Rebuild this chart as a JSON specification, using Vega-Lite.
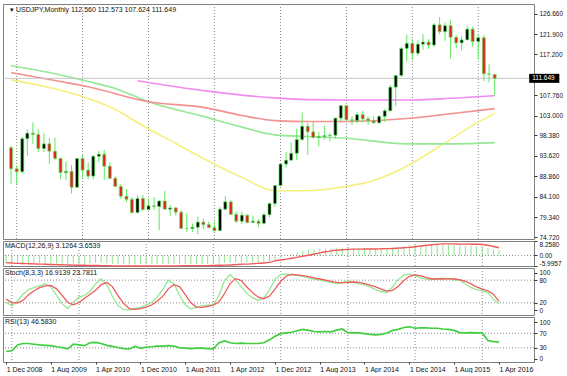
{
  "$schema": "https://vega.github.io/schema/vega-lite/v6.json",
  "padding": {"left": 2, "top": 3, "right": 0, "bottom": 0},
  "background": "white",
  "spacing": 2,
  "bounds": "flush",
  "config": {
    "view": {"stroke": "#808080", "strokeWidth": 1},
    "axis": {"labelFont": "Liberation Sans", "labelFontSize": 6.5, "labelColor": "#111", "tickColor": "#333", "tickSize": 3, "labelPadding": 2, "domain": false, "grid": false},
    "text": {"font": "Liberation Sans", "fontSize": 7, "color": "#111"}
  },
  "datasets": {
    "candles": [
      {"d":"2008-12-01","o":95.5,"h":95.9,"l":87.1,"c":90.6},
      {"d":"2009-01-01","o":90.6,"h":91.3,"l":87.1,"c":89.9},
      {"d":"2009-02-01","o":89.9,"h":98.0,"l":89.4,"c":97.6},
      {"d":"2009-03-01","o":97.6,"h":99.7,"l":93.6,"c":98.9},
      {"d":"2009-04-01","o":98.9,"h":101.4,"l":96.4,"c":98.6},
      {"d":"2009-05-01","o":98.6,"h":99.8,"l":94.5,"c":95.3},
      {"d":"2009-06-01","o":95.3,"h":98.9,"l":94.5,"c":96.4},
      {"d":"2009-07-01","o":96.4,"h":97.8,"l":91.7,"c":94.7},
      {"d":"2009-08-01","o":94.7,"h":97.8,"l":92.6,"c":93.0},
      {"d":"2009-09-01","o":93.0,"h":93.3,"l":88.2,"c":89.7},
      {"d":"2009-10-01","o":89.7,"h":92.3,"l":88.0,"c":90.0},
      {"d":"2009-11-01","o":90.0,"h":91.5,"l":84.8,"c":86.3},
      {"d":"2009-12-01","o":86.3,"h":93.1,"l":86.1,"c":93.0},
      {"d":"2010-01-01","o":93.0,"h":93.8,"l":88.5,"c":90.3},
      {"d":"2010-02-01","o":90.3,"h":92.1,"l":88.1,"c":88.9},
      {"d":"2010-03-01","o":88.9,"h":93.8,"l":88.1,"c":93.5},
      {"d":"2010-04-01","o":93.5,"h":94.8,"l":92.1,"c":94.0},
      {"d":"2010-05-01","o":94.0,"h":95.0,"l":88.0,"c":91.2},
      {"d":"2010-06-01","o":91.2,"h":92.1,"l":88.1,"c":88.4},
      {"d":"2010-07-01","o":88.4,"h":88.9,"l":86.3,"c":86.5},
      {"d":"2010-08-01","o":86.5,"h":87.1,"l":83.6,"c":84.2},
      {"d":"2010-09-01","o":84.2,"h":85.9,"l":82.9,"c":83.5},
      {"d":"2010-10-01","o":83.5,"h":84.0,"l":80.2,"c":80.4},
      {"d":"2010-11-01","o":80.4,"h":84.4,"l":80.2,"c":83.7},
      {"d":"2010-12-01","o":83.7,"h":84.5,"l":80.8,"c":81.1},
      {"d":"2011-01-01","o":81.1,"h":83.7,"l":81.1,"c":82.0},
      {"d":"2011-02-01","o":82.0,"h":84.0,"l":81.1,"c":81.8},
      {"d":"2011-03-01","o":81.8,"h":83.3,"l":76.3,"c":83.1},
      {"d":"2011-04-01","o":83.1,"h":85.5,"l":81.2,"c":81.2},
      {"d":"2011-05-01","o":81.2,"h":82.2,"l":79.6,"c":81.5},
      {"d":"2011-06-01","o":81.5,"h":81.7,"l":79.7,"c":80.5},
      {"d":"2011-07-01","o":80.5,"h":81.0,"l":76.7,"c":76.7},
      {"d":"2011-08-01","o":76.7,"h":80.2,"l":75.9,"c":76.7},
      {"d":"2011-09-01","o":76.7,"h":77.9,"l":75.9,"c":77.0},
      {"d":"2011-10-01","o":77.0,"h":79.5,"l":75.4,"c":78.2},
      {"d":"2011-11-01","o":78.2,"h":79.0,"l":76.6,"c":77.6},
      {"d":"2011-12-01","o":77.6,"h":78.3,"l":76.9,"c":76.9},
      {"d":"2012-01-01","o":76.9,"h":78.3,"l":76.0,"c":76.2},
      {"d":"2012-02-01","o":76.2,"h":81.7,"l":76.1,"c":81.2},
      {"d":"2012-03-01","o":81.2,"h":84.2,"l":80.9,"c":82.9},
      {"d":"2012-04-01","o":82.9,"h":83.3,"l":79.8,"c":80.0},
      {"d":"2012-05-01","o":80.0,"h":80.6,"l":78.0,"c":78.4},
      {"d":"2012-06-01","o":78.4,"h":80.6,"l":77.7,"c":79.8},
      {"d":"2012-07-01","o":79.8,"h":80.0,"l":77.9,"c":78.1},
      {"d":"2012-08-01","o":78.1,"h":79.7,"l":78.0,"c":78.4},
      {"d":"2012-09-01","o":78.4,"h":78.9,"l":77.1,"c":77.9},
      {"d":"2012-10-01","o":77.9,"h":80.4,"l":77.9,"c":79.9},
      {"d":"2012-11-01","o":79.9,"h":82.8,"l":79.3,"c":82.5},
      {"d":"2012-12-01","o":82.5,"h":86.8,"l":81.7,"c":86.7},
      {"d":"2013-01-01","o":86.7,"h":91.8,"l":86.6,"c":91.7},
      {"d":"2013-02-01","o":91.7,"h":94.5,"l":90.9,"c":92.6},
      {"d":"2013-03-01","o":92.6,"h":96.7,"l":92.6,"c":94.2},
      {"d":"2013-04-01","o":94.2,"h":99.9,"l":92.6,"c":97.4},
      {"d":"2013-05-01","o":97.4,"h":103.7,"l":97.1,"c":100.5},
      {"d":"2013-06-01","o":100.5,"h":101.3,"l":93.8,"c":99.2},
      {"d":"2013-07-01","o":99.2,"h":101.5,"l":97.6,"c":97.9},
      {"d":"2013-08-01","o":97.9,"h":99.2,"l":95.8,"c":98.1},
      {"d":"2013-09-01","o":98.1,"h":100.6,"l":97.4,"c":98.3},
      {"d":"2013-10-01","o":98.3,"h":99.0,"l":96.9,"c":98.4},
      {"d":"2013-11-01","o":98.4,"h":102.4,"l":97.6,"c":102.4},
      {"d":"2013-12-01","o":102.4,"h":105.4,"l":101.6,"c":105.3},
      {"d":"2014-01-01","o":105.3,"h":105.4,"l":101.8,"c":102.0},
      {"d":"2014-02-01","o":102.0,"h":102.8,"l":100.8,"c":101.8},
      {"d":"2014-03-01","o":101.8,"h":103.8,"l":101.2,"c":103.2},
      {"d":"2014-04-01","o":103.2,"h":104.1,"l":101.4,"c":102.2},
      {"d":"2014-05-01","o":102.2,"h":102.8,"l":100.8,"c":101.8},
      {"d":"2014-06-01","o":101.8,"h":102.8,"l":101.1,"c":101.3},
      {"d":"2014-07-01","o":101.3,"h":103.1,"l":101.1,"c":102.8},
      {"d":"2014-08-01","o":102.8,"h":104.5,"l":101.5,"c":104.1},
      {"d":"2014-09-01","o":104.1,"h":110.1,"l":104.0,"c":109.6},
      {"d":"2014-10-01","o":109.6,"h":112.5,"l":105.2,"c":112.3},
      {"d":"2014-11-01","o":112.3,"h":119.0,"l":112.0,"c":118.6},
      {"d":"2014-12-01","o":118.6,"h":121.8,"l":115.6,"c":119.8},
      {"d":"2015-01-01","o":119.8,"h":120.8,"l":115.9,"c":117.5},
      {"d":"2015-02-01","o":117.5,"h":120.5,"l":116.9,"c":119.6},
      {"d":"2015-03-01","o":119.6,"h":122.0,"l":118.3,"c":120.1},
      {"d":"2015-04-01","o":120.1,"h":120.8,"l":118.5,"c":119.4},
      {"d":"2015-05-01","o":119.4,"h":124.5,"l":118.9,"c":124.1},
      {"d":"2015-06-01","o":124.1,"h":125.9,"l":121.9,"c":122.5},
      {"d":"2015-07-01","o":122.5,"h":124.6,"l":120.4,"c":123.9},
      {"d":"2015-08-01","o":123.9,"h":125.3,"l":116.2,"c":121.2},
      {"d":"2015-09-01","o":121.2,"h":121.7,"l":118.6,"c":119.9},
      {"d":"2015-10-01","o":119.9,"h":121.5,"l":118.1,"c":120.6},
      {"d":"2015-11-01","o":120.6,"h":123.8,"l":120.6,"c":123.1},
      {"d":"2015-12-01","o":123.1,"h":123.6,"l":119.0,"c":120.2},
      {"d":"2016-01-01","o":120.2,"h":121.7,"l":116.0,"c":121.1},
      {"d":"2016-02-01","o":121.1,"h":121.7,"l":111.0,"c":112.7},
      {"d":"2016-03-01","o":112.7,"h":114.9,"l":110.7,"c":112.6},
      {"d":"2016-04-01","o":112.56,"h":112.57,"l":107.62,"c":111.65}
    ],
    "ind": [
      {"d":"2008-12-01","m":-4.6,"s":-4.1,"k":22,"dd":30,"r":20},
      {"d":"2009-01-01","m":-4.7,"s":-4.3,"k":12,"dd":20,"r":22},
      {"d":"2009-02-01","m":-4.5,"s":-4.5,"k":25,"dd":20,"r":38},
      {"d":"2009-03-01","m":-4.3,"s":-4.6,"k":42,"dd":26,"r":42},
      {"d":"2009-04-01","m":-4.2,"s":-4.7,"k":55,"dd":41,"r":42},
      {"d":"2009-05-01","m":-4.3,"s":-4.8,"k":60,"dd":52,"r":40},
      {"d":"2009-06-01","m":-4.3,"s":-4.9,"k":65,"dd":60,"r":38},
      {"d":"2009-07-01","m":-4.4,"s":-5.0,"k":70,"dd":65,"r":37},
      {"d":"2009-08-01","m":-4.5,"s":-5.1,"k":62,"dd":66,"r":36},
      {"d":"2009-09-01","m":-4.6,"s":-5.2,"k":40,"dd":57,"r":33},
      {"d":"2009-10-01","m":-4.7,"s":-5.3,"k":18,"dd":40,"r":31},
      {"d":"2009-11-01","m":-4.9,"s":-5.4,"k":5,"dd":21,"r":27},
      {"d":"2009-12-01","m":-4.7,"s":-5.5,"k":22,"dd":15,"r":40},
      {"d":"2010-01-01","m":-4.7,"s":-5.6,"k":35,"dd":21,"r":38},
      {"d":"2010-02-01","m":-4.7,"s":-5.6,"k":40,"dd":32,"r":36},
      {"d":"2010-03-01","m":-4.5,"s":-5.7,"k":50,"dd":42,"r":44},
      {"d":"2010-04-01","m":-4.3,"s":-5.7,"k":70,"dd":53,"r":45},
      {"d":"2010-05-01","m":-4.3,"s":-5.8,"k":83,"dd":68,"r":42},
      {"d":"2010-06-01","m":-4.4,"s":-5.8,"k":68,"dd":74,"r":37},
      {"d":"2010-07-01","m":-4.6,"s":-5.9,"k":38,"dd":63,"r":34},
      {"d":"2010-08-01","m":-4.8,"s":-5.9,"k":12,"dd":39,"r":31},
      {"d":"2010-09-01","m":-5.0,"s":-5.99,"k":3,"dd":18,"r":28},
      {"d":"2010-10-01","m":-5.2,"s":-5.99,"k":1,"dd":5,"r":27},
      {"d":"2010-11-01","m":-5.1,"s":-5.99,"k":5,"dd":3,"r":34},
      {"d":"2010-12-01","m":-5.1,"s":-5.99,"k":8,"dd":5,"r":29},
      {"d":"2011-01-01","m":-5.0,"s":-5.99,"k":14,"dd":9,"r":32},
      {"d":"2011-02-01","m":-4.9,"s":-5.9,"k":22,"dd":15,"r":33},
      {"d":"2011-03-01","m":-4.8,"s":-5.9,"k":35,"dd":24,"r":35},
      {"d":"2011-04-01","m":-4.7,"s":-5.9,"k":55,"dd":37,"r":35},
      {"d":"2011-05-01","m":-4.7,"s":-5.9,"k":80,"dd":57,"r":36},
      {"d":"2011-06-01","m":-4.7,"s":-5.9,"k":70,"dd":68,"r":35},
      {"d":"2011-07-01","m":-4.9,"s":-5.9,"k":40,"dd":63,"r":30},
      {"d":"2011-08-01","m":-5.0,"s":-5.8,"k":15,"dd":42,"r":29},
      {"d":"2011-09-01","m":-5.0,"s":-5.8,"k":4,"dd":20,"r":28},
      {"d":"2011-10-01","m":-4.9,"s":-5.8,"k":8,"dd":9,"r":29},
      {"d":"2011-11-01","m":-4.9,"s":-5.8,"k":12,"dd":8,"r":29},
      {"d":"2011-12-01","m":-4.9,"s":-5.8,"k":14,"dd":11,"r":28},
      {"d":"2012-01-01","m":-4.9,"s":-5.7,"k":15,"dd":14,"r":27},
      {"d":"2012-02-01","m":-4.5,"s":-5.6,"k":40,"dd":23,"r":44},
      {"d":"2012-03-01","m":-4.1,"s":-5.5,"k":78,"dd":44,"r":49},
      {"d":"2012-04-01","m":-4.0,"s":-5.4,"k":95,"dd":71,"r":44},
      {"d":"2012-05-01","m":-4.0,"s":-5.2,"k":80,"dd":84,"r":42},
      {"d":"2012-06-01","m":-3.9,"s":-5.0,"k":62,"dd":79,"r":43},
      {"d":"2012-07-01","m":-3.9,"s":-4.9,"k":45,"dd":62,"r":42},
      {"d":"2012-08-01","m":-3.8,"s":-4.7,"k":33,"dd":47,"r":42},
      {"d":"2012-09-01","m":-3.8,"s":-4.5,"k":27,"dd":35,"r":42},
      {"d":"2012-10-01","m":-3.6,"s":-4.3,"k":32,"dd":31,"r":44},
      {"d":"2012-11-01","m":-3.2,"s":-3.9,"k":55,"dd":38,"r":52},
      {"d":"2012-12-01","m":-2.4,"s":-3.1,"k":82,"dd":56,"r":62},
      {"d":"2013-01-01","m":-1.2,"s":-2.6,"k":95,"dd":77,"r":69},
      {"d":"2013-02-01","m":-0.1,"s":-2.1,"k":96,"dd":91,"r":71},
      {"d":"2013-03-01","m":0.8,"s":-1.6,"k":94,"dd":95,"r":73},
      {"d":"2013-04-01","m":1.8,"s":-1.0,"k":92,"dd":94,"r":77},
      {"d":"2013-05-01","m":2.8,"s":-0.4,"k":90,"dd":92,"r":81},
      {"d":"2013-06-01","m":3.3,"s":0.1,"k":86,"dd":89,"r":78},
      {"d":"2013-07-01","m":3.5,"s":0.8,"k":83,"dd":86,"r":75},
      {"d":"2013-08-01","m":3.7,"s":1.5,"k":80,"dd":83,"r":74},
      {"d":"2013-09-01","m":3.8,"s":2.1,"k":77,"dd":80,"r":75},
      {"d":"2013-10-01","m":3.8,"s":2.6,"k":74,"dd":77,"r":74},
      {"d":"2013-11-01","m":4.1,"s":3.0,"k":70,"dd":74,"r":79},
      {"d":"2013-12-01","m":4.5,"s":3.3,"k":74,"dd":73,"r":82},
      {"d":"2014-01-01","m":4.4,"s":3.5,"k":78,"dd":74,"r":72},
      {"d":"2014-02-01","m":4.3,"s":3.6,"k":74,"dd":75,"r":71},
      {"d":"2014-03-01","m":4.3,"s":3.6,"k":70,"dd":74,"r":71},
      {"d":"2014-04-01","m":4.2,"s":3.7,"k":68,"dd":71,"r":69},
      {"d":"2014-05-01","m":4.0,"s":3.7,"k":62,"dd":67,"r":67},
      {"d":"2014-06-01","m":3.9,"s":3.7,"k":55,"dd":62,"r":66},
      {"d":"2014-07-01","m":3.9,"s":3.8,"k":50,"dd":56,"r":67},
      {"d":"2014-08-01","m":4.0,"s":3.9,"k":48,"dd":51,"r":71},
      {"d":"2014-09-01","m":4.4,"s":4.0,"k":62,"dd":53,"r":78},
      {"d":"2014-10-01","m":4.9,"s":4.2,"k":82,"dd":64,"r":81},
      {"d":"2014-11-01","m":5.4,"s":4.4,"k":93,"dd":79,"r":86},
      {"d":"2014-12-01","m":5.8,"s":4.6,"k":96,"dd":90,"r":88},
      {"d":"2015-01-01","m":5.9,"s":5.0,"k":92,"dd":94,"r":84},
      {"d":"2015-02-01","m":6.0,"s":5.4,"k":86,"dd":91,"r":85},
      {"d":"2015-03-01","m":6.1,"s":5.8,"k":83,"dd":87,"r":85},
      {"d":"2015-04-01","m":6.0,"s":6.1,"k":81,"dd":83,"r":84},
      {"d":"2015-05-01","m":6.2,"s":6.4,"k":84,"dd":83,"r":84},
      {"d":"2015-06-01","m":6.3,"s":6.6,"k":85,"dd":83,"r":82},
      {"d":"2015-07-01","m":6.2,"s":6.6,"k":84,"dd":84,"r":81},
      {"d":"2015-08-01","m":6.0,"s":6.6,"k":80,"dd":83,"r":78},
      {"d":"2015-09-01","m":5.8,"s":6.5,"k":80,"dd":81,"r":72},
      {"d":"2015-10-01","m":5.5,"s":6.5,"k":70,"dd":77,"r":71},
      {"d":"2015-11-01","m":5.5,"s":6.4,"k":60,"dd":70,"r":72},
      {"d":"2015-12-01","m":5.3,"s":6.4,"k":55,"dd":62,"r":71},
      {"d":"2016-01-01","m":5.1,"s":6.3,"k":52,"dd":56,"r":71},
      {"d":"2016-02-01","m":4.3,"s":5.8,"k":48,"dd":52,"r":50},
      {"d":"2016-03-01","m":3.6,"s":5.1,"k":30,"dd":43,"r":47},
      {"d":"2016-04-01","m":3.13,"s":4.4,"k":17,"dd":24,"r":46.6}
    ],
    "ma": [
      {"sr":"y","d":"2008-12-01","v":111.3},
      {"sr":"y","d":"2009-06-01","v":109.8},
      {"sr":"y","d":"2010-01-01","v":107.4},
      {"sr":"y","d":"2010-07-01","v":104.4},
      {"sr":"y","d":"2010-12-01","v":100.6},
      {"sr":"y","d":"2011-06-01","v":96.5},
      {"sr":"y","d":"2011-11-01","v":93.0},
      {"sr":"y","d":"2012-06-01","v":88.6},
      {"sr":"y","d":"2012-12-01","v":85.5},
      {"sr":"y","d":"2013-06-01","v":85.5},
      {"sr":"y","d":"2013-12-01","v":86.3},
      {"sr":"y","d":"2014-06-01","v":87.9},
      {"sr":"y","d":"2014-12-01","v":91.2},
      {"sr":"y","d":"2015-06-01","v":95.8},
      {"sr":"y","d":"2015-12-01","v":100.7},
      {"sr":"y","d":"2016-04-01","v":103.5},
      {"sr":"g","d":"2008-12-01","v":114.6},
      {"sr":"g","d":"2009-07-01","v":113.0},
      {"sr":"g","d":"2010-02-01","v":110.9},
      {"sr":"g","d":"2010-07-01","v":109.3},
      {"sr":"g","d":"2011-01-01","v":106.2},
      {"sr":"g","d":"2011-11-01","v":102.8},
      {"sr":"g","d":"2012-06-01","v":100.3},
      {"sr":"g","d":"2012-12-01","v":98.5},
      {"sr":"g","d":"2013-06-01","v":98.1},
      {"sr":"g","d":"2014-01-01","v":97.7},
      {"sr":"g","d":"2014-12-01","v":96.4},
      {"sr":"g","d":"2015-08-01","v":96.4},
      {"sr":"g","d":"2016-04-01","v":96.7},
      {"sr":"r","d":"2008-12-01","v":113.0},
      {"sr":"r","d":"2009-09-01","v":110.9},
      {"sr":"r","d":"2010-02-01","v":109.7},
      {"sr":"r","d":"2011-01-01","v":106.2},
      {"sr":"r","d":"2011-11-01","v":104.9},
      {"sr":"r","d":"2012-06-01","v":103.0},
      {"sr":"r","d":"2012-12-01","v":101.8},
      {"sr":"r","d":"2013-06-01","v":101.6},
      {"sr":"r","d":"2014-01-01","v":101.6},
      {"sr":"r","d":"2014-12-01","v":102.3},
      {"sr":"r","d":"2015-08-01","v":103.4},
      {"sr":"r","d":"2016-04-01","v":104.6},
      {"sr":"m","d":"2010-11-01","v":111.1},
      {"sr":"m","d":"2011-11-01","v":108.8},
      {"sr":"m","d":"2012-12-01","v":107.1},
      {"sr":"m","d":"2013-06-01","v":106.7},
      {"sr":"m","d":"2014-01-01","v":106.6},
      {"sr":"m","d":"2014-12-01","v":106.6},
      {"sr":"m","d":"2015-08-01","v":107.0},
      {"sr":"m","d":"2016-04-01","v":107.6}
    ],
    "grid": [
      {"d":"2009-01-01"},{"d":"2010-01-01"},{"d":"2011-01-01"},{"d":"2012-01-01"},
      {"d":"2013-01-01"},{"d":"2014-01-01"},{"d":"2015-01-01"},{"d":"2016-01-01"}
    ],
    "price": [{"p": 111.649}],
    "macdlvl": [{"v": 0}],
    "stochlvl": [{"v": 80}, {"v": 20}],
    "rsilvl": [{"v": 70}, {"v": 30}],
    "hdr": [{"t": "▾ USDJPY,Monthly  112.560 112.573 107.624 111.649"}],
    "macdtxt": [{"t": "MACD(12,26,9) 3.1264 3.6539"}],
    "stochtxt": [{"t": "Stoch(8,3,3) 16.9139 23.7811"}],
    "rsitxt": [{"t": "RSI(13) 46.5830"}]
  },
  "vconcat": [
    {
      "width": 531, "height": 235,
      "layer": [
        {"data": {"name": "grid"}, "mark": {"type": "rule", "color": "#8a8a8a", "strokeDash": [1, 2], "strokeWidth": 1},
         "encoding": {"x": {"field": "d", "type": "temporal", "title": null, "axis": null,
              "scale": {"type": "utc", "nice": false, "domain": [{"year":2008,"month":11,"date":14,"utc":true},{"year":2016,"month":10,"date":8,"utc":true}]}}}},
        {"data": {"name": "ma"}, "mark": {"type": "line", "strokeWidth": 1.6, "interpolate": "monotone"},
         "encoding": {
           "x": {"field": "d", "type": "temporal", "title": null, "axis": null,
              "scale": {"type": "utc", "nice": false, "domain": [{"year":2008,"month":11,"date":14,"utc":true},{"year":2016,"month":10,"date":8,"utc":true}]}},
           "y": {"field": "v", "type": "quantitative", "title": null,
                 "scale": {"domain": [74.26, 128.95], "zero": false, "nice": false},
                 "axis": {"orient": "right", "tickCount": 60, "values": [126.66, 121.9, 117.2, 107.76, 103.0, 98.38, 93.62, 88.86, 84.1, 79.34, 74.72], "format": ".3f", "labelOverlap": false}},
           "color": {"field": "sr", "type": "nominal", "legend": null,
                     "scale": {"domain": ["y", "g", "r", "m"], "range": ["#f6ef7c", "#95e895", "#f39090", "#ef8cef"]}}
         }},
        {"data": {"name": "price"}, "mark": {"type": "rule", "color": "#c4c4c4", "strokeWidth": 1},
         "encoding": {"y": {"field": "p", "type": "quantitative", "title": null,
                 "scale": {"domain": [74.26, 128.95], "zero": false, "nice": false},
                 "axis": {"orient": "right", "tickCount": 60, "values": [126.66, 121.9, 117.2, 107.76, 103.0, 98.38, 93.62, 88.86, 84.1, 79.34, 74.72], "format": ".3f", "labelOverlap": false}}}},
        {"data": {"name": "candles"}, "mark": {"type": "rule", "color": "#5ee85e", "strokeWidth": 1},
         "encoding": {
           "x": {"field": "d", "type": "temporal", "title": null, "axis": null,
              "scale": {"type": "utc", "nice": false, "domain": [{"year":2008,"month":11,"date":14,"utc":true},{"year":2016,"month":10,"date":8,"utc":true}]}},
           "y": {"field": "l", "type": "quantitative", "title": null,
                 "scale": {"domain": [74.26, 128.95], "zero": false, "nice": false},
                 "axis": {"orient": "right", "tickCount": 60, "values": [126.66, 121.9, 117.2, 107.76, 103.0, 98.38, 93.62, 88.86, 84.1, 79.34, 74.72], "format": ".3f", "labelOverlap": false}},
           "y2": {"field": "h"}}},
        {"data": {"name": "candles"}, "mark": {"type": "bar", "size": 3, "stroke": "#5ee85e", "strokeWidth": 0.7},
         "encoding": {
           "x": {"field": "d", "type": "temporal", "title": null, "axis": null,
              "scale": {"type": "utc", "nice": false, "domain": [{"year":2008,"month":11,"date":14,"utc":true},{"year":2016,"month":10,"date":8,"utc":true}]}},
           "y": {"field": "o", "type": "quantitative", "title": null,
                 "scale": {"domain": [74.26, 128.95], "zero": false, "nice": false},
                 "axis": {"orient": "right", "tickCount": 60, "values": [126.66, 121.9, 117.2, 107.76, 103.0, 98.38, 93.62, 88.86, 84.1, 79.34, 74.72], "format": ".3f", "labelOverlap": false}},
           "y2": {"field": "c"},
           "fill": {"condition": {"test": "datum.c >= datum.o", "value": "#000000"}, "value": "#e0231c"}}},
        {"data": {"name": "price"}, "mark": {"type": "rule", "color": "#000000", "strokeWidth": 9, "strokeCap": "butt"},
         "encoding": {
           "x": {"datum": {"year":2016,"month":10,"date":9,"utc":true}, "type": "temporal",
              "scale": {"type": "utc", "nice": false, "domain": [{"year":2008,"month":11,"date":14,"utc":true},{"year":2016,"month":10,"date":8,"utc":true}]}},
           "x2": {"datum": {"year":2017,"month":3,"date":25,"utc":true}},
           "y": {"field": "p", "type": "quantitative", "title": null,
                 "scale": {"domain": [74.26, 128.95], "zero": false, "nice": false},
                 "axis": {"orient": "right", "tickCount": 60, "values": [126.66, 121.9, 117.2, 107.76, 103.0, 98.38, 93.62, 88.86, 84.1, 79.34, 74.72], "format": ".3f", "labelOverlap": false}}}},
        {"data": {"name": "price"}, "mark": {"type": "text", "align": "left", "baseline": "middle", "dx": 3, "fontSize": 6.5, "color": "#ffffff"},
         "encoding": {
           "x": {"datum": {"year":2016,"month":10,"date":9,"utc":true}, "type": "temporal",
              "scale": {"type": "utc", "nice": false, "domain": [{"year":2008,"month":11,"date":14,"utc":true},{"year":2016,"month":10,"date":8,"utc":true}]}},
           "y": {"field": "p", "type": "quantitative", "title": null,
                 "scale": {"domain": [74.26, 128.95], "zero": false, "nice": false},
                 "axis": {"orient": "right", "tickCount": 60, "values": [126.66, 121.9, 117.2, 107.76, 103.0, 98.38, 93.62, 88.86, 84.1, 79.34, 74.72], "format": ".3f", "labelOverlap": false}},
           "text": {"field": "p", "type": "quantitative", "format": ".3f"}}},
        {"data": {"name": "hdr"}, "mark": {"type": "text", "align": "left", "baseline": "top", "dx": 2, "dy": 2},
         "encoding": {
           "x": {"datum": {"year":2008,"month":11,"date":14,"utc":true}, "type": "temporal",
              "scale": {"type": "utc", "nice": false, "domain": [{"year":2008,"month":11,"date":14,"utc":true},{"year":2016,"month":10,"date":8,"utc":true}]}},
           "y": {"datum": 128.95, "type": "quantitative",
                 "scale": {"domain": [74.26, 128.95], "zero": false, "nice": false},
                 "axis": {"orient": "right", "tickCount": 60, "values": [126.66, 121.9, 117.2, 107.76, 103.0, 98.38, 93.62, 88.86, 84.1, 79.34, 74.72], "format": ".3f", "labelOverlap": false}},
           "text": {"field": "t"}}}
      ]
    },
    {
      "width": 531, "height": 25,
      "layer": [
        {"data": {"name": "grid"}, "mark": {"type": "rule", "color": "#8a8a8a", "strokeDash": [1, 2], "strokeWidth": 1},
         "encoding": {"x": {"field": "d", "type": "temporal", "title": null, "axis": null,
              "scale": {"type": "utc", "nice": false, "domain": [{"year":2008,"month":11,"date":14,"utc":true},{"year":2016,"month":10,"date":8,"utc":true}]}}}},
        {"data": {"name": "ind"}, "mark": {"type": "rule", "color": "#8fe48f", "strokeWidth": 1},
         "encoding": {
           "x": {"field": "d", "type": "temporal", "title": null, "axis": null,
              "scale": {"type": "utc", "nice": false, "domain": [{"year":2008,"month":11,"date":14,"utc":true},{"year":2016,"month":10,"date":8,"utc":true}]}},
           "y": {"field": "m", "type": "quantitative", "title": null,
                 "scale": {"domain": [-5.9957, 8.258], "nice": false, "zero": false},
                 "axis": {"orient": "right", "tickCount": 60, "values": [8.258, 0, -5.9957], "labelOverlap": false, "labelFlush": true,
                          "labelExpr": "datum.value > 8 ? '8.2580' : (datum.value < -5 ? '-5.9957' : '0.00')"}},
           "y2": {"datum": 0}}},
        {"data": {"name": "macdlvl"}, "mark": {"type": "rule", "color": "#8a8a8a", "strokeDash": [1, 2], "strokeWidth": 1},
         "encoding": {"y": {"field": "v", "type": "quantitative", "title": null,
                 "scale": {"domain": [-5.9957, 8.258], "nice": false, "zero": false},
                 "axis": {"orient": "right", "tickCount": 60, "values": [8.258, 0, -5.9957], "labelOverlap": false, "labelFlush": true,
                          "labelExpr": "datum.value > 8 ? '8.2580' : (datum.value < -5 ? '-5.9957' : '0.00')"}}}},
        {"data": {"name": "ind"}, "mark": {"type": "line", "color": "#f05a5a", "strokeWidth": 1.4, "interpolate": "monotone"},
         "encoding": {
           "x": {"field": "d", "type": "temporal", "title": null, "axis": null,
              "scale": {"type": "utc", "nice": false, "domain": [{"year":2008,"month":11,"date":14,"utc":true},{"year":2016,"month":10,"date":8,"utc":true}]}},
           "y": {"field": "s", "type": "quantitative", "title": null,
                 "scale": {"domain": [-5.9957, 8.258], "nice": false, "zero": false},
                 "axis": {"orient": "right", "tickCount": 60, "values": [8.258, 0, -5.9957], "labelOverlap": false, "labelFlush": true,
                          "labelExpr": "datum.value > 8 ? '8.2580' : (datum.value < -5 ? '-5.9957' : '0.00')"}}}},
        {"data": {"name": "macdtxt"}, "mark": {"type": "text", "align": "left", "baseline": "top", "dx": 2, "dy": 1},
         "encoding": {
           "x": {"datum": {"year":2008,"month":11,"date":14,"utc":true}, "type": "temporal",
              "scale": {"type": "utc", "nice": false, "domain": [{"year":2008,"month":11,"date":14,"utc":true},{"year":2016,"month":10,"date":8,"utc":true}]}},
           "y": {"datum": 8.258, "type": "quantitative",
                 "scale": {"domain": [-5.9957, 8.258], "nice": false, "zero": false},
                 "axis": {"orient": "right", "tickCount": 60, "values": [8.258, 0, -5.9957], "labelOverlap": false, "labelFlush": true,
                          "labelExpr": "datum.value > 8 ? '8.2580' : (datum.value < -5 ? '-5.9957' : '0.00')"}},
           "text": {"field": "t"}}}
      ]
    },
    {
      "width": 531, "height": 47,
      "layer": [
        {"data": {"name": "grid"}, "mark": {"type": "rule", "color": "#8a8a8a", "strokeDash": [1, 2], "strokeWidth": 1},
         "encoding": {"x": {"field": "d", "type": "temporal", "title": null, "axis": null,
              "scale": {"type": "utc", "nice": false, "domain": [{"year":2008,"month":11,"date":14,"utc":true},{"year":2016,"month":10,"date":8,"utc":true}]}}}},
        {"data": {"name": "stochlvl"}, "mark": {"type": "rule", "color": "#8a8a8a", "strokeDash": [1, 2], "strokeWidth": 1},
         "encoding": {"y": {"field": "v", "type": "quantitative", "title": null,
                 "scale": {"domain": [-12, 112], "nice": false, "zero": false},
                 "axis": {"orient": "right", "tickCount": 60, "values": [100, 80, 20, 0], "labelOverlap": false}}}},
        {"data": {"name": "ind"}, "mark": {"type": "line", "color": "#93e893", "strokeWidth": 1.3},
         "encoding": {
           "x": {"field": "d", "type": "temporal", "title": null, "axis": null,
              "scale": {"type": "utc", "nice": false, "domain": [{"year":2008,"month":11,"date":14,"utc":true},{"year":2016,"month":10,"date":8,"utc":true}]}},
           "y": {"field": "k", "type": "quantitative", "title": null,
                 "scale": {"domain": [-12, 112], "nice": false, "zero": false},
                 "axis": {"orient": "right", "tickCount": 60, "values": [100, 80, 20, 0], "labelOverlap": false}}}},
        {"data": {"name": "ind"}, "mark": {"type": "line", "color": "#f05a5a", "strokeWidth": 1.3},
         "encoding": {
           "x": {"field": "d", "type": "temporal", "title": null, "axis": null,
              "scale": {"type": "utc", "nice": false, "domain": [{"year":2008,"month":11,"date":14,"utc":true},{"year":2016,"month":10,"date":8,"utc":true}]}},
           "y": {"field": "dd", "type": "quantitative", "title": null,
                 "scale": {"domain": [-12, 112], "nice": false, "zero": false},
                 "axis": {"orient": "right", "tickCount": 60, "values": [100, 80, 20, 0], "labelOverlap": false}}}},
        {"data": {"name": "stochtxt"}, "mark": {"type": "text", "align": "left", "baseline": "top", "dx": 2, "dy": 1},
         "encoding": {
           "x": {"datum": {"year":2008,"month":11,"date":14,"utc":true}, "type": "temporal",
              "scale": {"type": "utc", "nice": false, "domain": [{"year":2008,"month":11,"date":14,"utc":true},{"year":2016,"month":10,"date":8,"utc":true}]}},
           "y": {"datum": 112, "type": "quantitative",
                 "scale": {"domain": [-12, 112], "nice": false, "zero": false},
                 "axis": {"orient": "right", "tickCount": 60, "values": [100, 80, 20, 0], "labelOverlap": false}},
           "text": {"field": "t"}}}
      ]
    },
    {
      "width": 531, "height": 45,
      "layer": [
        {"data": {"name": "grid"}, "mark": {"type": "rule", "color": "#8a8a8a", "strokeDash": [1, 2], "strokeWidth": 1},
         "encoding": {"x": {"field": "d", "type": "temporal", "title": null,
              "scale": {"type": "utc", "nice": false, "domain": [{"year":2008,"month":11,"date":14,"utc":true},{"year":2016,"month":10,"date":8,"utc":true}]},
              "axis": {"values": [
                {"year":2008,"month":12,"date":1,"utc":true},{"year":2009,"month":8,"date":1,"utc":true},
                {"year":2010,"month":4,"date":1,"utc":true},{"year":2010,"month":12,"date":1,"utc":true},
                {"year":2011,"month":8,"date":1,"utc":true},{"year":2012,"month":4,"date":1,"utc":true},
                {"year":2012,"month":12,"date":1,"utc":true},{"year":2013,"month":8,"date":1,"utc":true},
                {"year":2014,"month":4,"date":1,"utc":true},{"year":2014,"month":12,"date":1,"utc":true},
                {"year":2015,"month":8,"date":1,"utc":true},{"year":2016,"month":4,"date":1,"utc":true}],
                "tickCount": 60, "labelExpr": "utcFormat(datum.value, '%-d %b %Y')", "labelAlign": "left", "labelFontSize": 7, "labelPadding": 1, "tickSize": 2, "labelOverlap": false}}}},
        {"data": {"name": "rsilvl"}, "mark": {"type": "rule", "color": "#8a8a8a", "strokeDash": [1, 2], "strokeWidth": 1},
         "encoding": {"y": {"field": "v", "type": "quantitative", "title": null,
                 "scale": {"domain": [-9, 115], "nice": false, "zero": false},
                 "axis": {"orient": "right", "tickCount": 60, "values": [100, 70, 30, 0], "labelOverlap": false}}}},
        {"data": {"name": "ind"}, "mark": {"type": "line", "color": "#3fcf3f", "strokeWidth": 1.7},
         "encoding": {
           "x": {"field": "d", "type": "temporal", "title": null,
              "scale": {"type": "utc", "nice": false, "domain": [{"year":2008,"month":11,"date":14,"utc":true},{"year":2016,"month":10,"date":8,"utc":true}]},
              "axis": {"values": [
                {"year":2008,"month":12,"date":1,"utc":true},{"year":2009,"month":8,"date":1,"utc":true},
                {"year":2010,"month":4,"date":1,"utc":true},{"year":2010,"month":12,"date":1,"utc":true},
                {"year":2011,"month":8,"date":1,"utc":true},{"year":2012,"month":4,"date":1,"utc":true},
                {"year":2012,"month":12,"date":1,"utc":true},{"year":2013,"month":8,"date":1,"utc":true},
                {"year":2014,"month":4,"date":1,"utc":true},{"year":2014,"month":12,"date":1,"utc":true},
                {"year":2015,"month":8,"date":1,"utc":true},{"year":2016,"month":4,"date":1,"utc":true}],
                "tickCount": 60, "labelExpr": "utcFormat(datum.value, '%-d %b %Y')", "labelAlign": "left", "labelFontSize": 7, "labelPadding": 1, "tickSize": 2, "labelOverlap": false}},
           "y": {"field": "r", "type": "quantitative", "title": null,
                 "scale": {"domain": [-9, 115], "nice": false, "zero": false},
                 "axis": {"orient": "right", "tickCount": 60, "values": [100, 70, 30, 0], "labelOverlap": false}}}},
        {"data": {"name": "rsitxt"}, "mark": {"type": "text", "align": "left", "baseline": "top", "dx": 2, "dy": 1},
         "encoding": {
           "x": {"datum": {"year":2008,"month":11,"date":14,"utc":true}, "type": "temporal",
              "scale": {"type": "utc", "nice": false, "domain": [{"year":2008,"month":11,"date":14,"utc":true},{"year":2016,"month":10,"date":8,"utc":true}]},
              "axis": {"values": [
                {"year":2008,"month":12,"date":1,"utc":true},{"year":2009,"month":8,"date":1,"utc":true},
                {"year":2010,"month":4,"date":1,"utc":true},{"year":2010,"month":12,"date":1,"utc":true},
                {"year":2011,"month":8,"date":1,"utc":true},{"year":2012,"month":4,"date":1,"utc":true},
                {"year":2012,"month":12,"date":1,"utc":true},{"year":2013,"month":8,"date":1,"utc":true},
                {"year":2014,"month":4,"date":1,"utc":true},{"year":2014,"month":12,"date":1,"utc":true},
                {"year":2015,"month":8,"date":1,"utc":true},{"year":2016,"month":4,"date":1,"utc":true}],
                "tickCount": 60, "labelExpr": "utcFormat(datum.value, '%-d %b %Y')", "labelAlign": "left", "labelFontSize": 7, "labelPadding": 1, "tickSize": 2, "labelOverlap": false}},
           "y": {"datum": 115, "type": "quantitative",
                 "scale": {"domain": [-9, 115], "nice": false, "zero": false},
                 "axis": {"orient": "right", "tickCount": 60, "values": [100, 70, 30, 0], "labelOverlap": false}},
           "text": {"field": "t"}}}
      ]
    }
  ]
}
